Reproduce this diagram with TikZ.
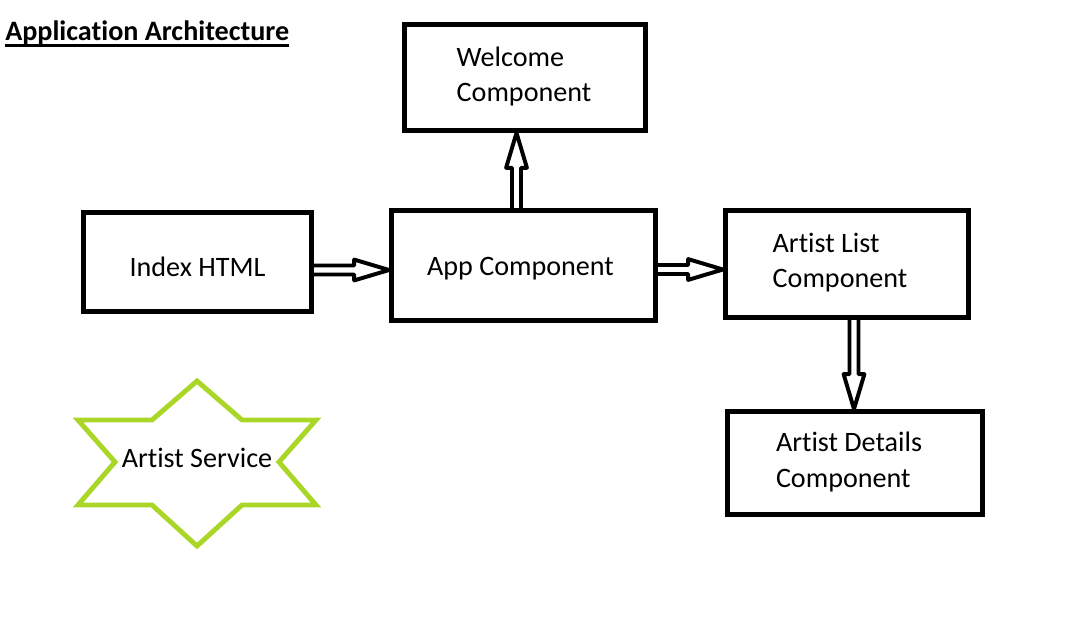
\documentclass[tikz,border=0pt]{standalone}
\usepackage{fontspec}
\setmainfont{Carlito}[RawFeature={-liga;-clig;-calt;-dlig}]
\usetikzlibrary{calc}
\definecolor{svcgreen}{RGB}{170,214,40}
\newcommand{\hollowarrow}[2]{%
  \draw[hollow] let \p1=(#1), \p2=(#2),
    \n1={atan2(\y2-\y1,\x2-\x1)}, \n2={veclen(\x2-\x1,\y2-\y1)} in
    [shift={(\p1)}, rotate=\n1]
    (0pt,-3.2pt) -- ({\n2*1pt-24.8pt},-3.2pt) -- ({\n2*1pt-24.8pt},-7.4pt)
    -- ({\n2*1pt},0pt) -- ({\n2*1pt-24.8pt},7.4pt) -- ({\n2*1pt-24.8pt},3.2pt) -- (0pt,3.2pt);
}

\begin{document}
\begin{tikzpicture} [x=0.025cm, y=-0.025cm,
  every node/.style={font=\fontsize{20}{25}\selectfont},
  comp/.style={draw, line width=3.4pt, inner sep=0pt},
  txt/.style={align=left, inner sep=0pt},
  hollow/.style={draw, line width=2.8pt, line join=round},
  starline/.style={draw=svcgreen, line width=3.5pt}]
\useasboundingbox (0,0) rectangle (1072,626);
\node[anchor=base west, inner sep=0pt, font=\bfseries\fontsize{20}{25}\selectfont] (title) at (5,40) {Application Architecture};
\draw[line width=2.6pt] ([yshift=-4pt]title.base west) -- ([yshift=-4pt]title.base east);

\node[comp, minimum width=6.03cm, minimum height=2.65cm] (wel) at (525,77.5) {};
\node[comp, minimum width=5.70cm, minimum height=2.48cm] (idx) at (197.5,262) {};
\node[comp, minimum width=6.60cm, minimum height=2.75cm] (app) at (523.5,265.5) {};
\node[comp, minimum width=6.08cm, minimum height=2.68cm] (lst) at (847,264) {};
\node[comp, minimum width=6.38cm, minimum height=2.58cm] (det) at (855,463) {};
\node[txt] (weltxt) at ($(wel)+(-1,-1)$) {Welcome\\Component};
\node[txt] (idxtxt) at ($(idx)+(0,5)$) {Index HTML};
\node[txt] (apptxt) at ($(app)+(-3,3)$) {App Component};
\node[txt] (lsttxt) at ($(lst)+(-7,-1)$) {Artist List\\Component};
\node[txt] (dettxt) at ($(det)+(-6,-1)$) {Artist Details\\Component};

\coordinate (a1) at ($(idx.east)+(0,8)$);
\coordinate (a2) at ($(app.east)+(0,4)$);
\coordinate (a3) at ($(app.north)+(-7,0)$);
\coordinate (a4) at ($(lst.south)+(7,0)$);
\hollowarrow{a1}{a1 -| app.west}
\hollowarrow{a2}{a2 -| lst.west}
\hollowarrow{a3}{a3 |- wel.south}
\hollowarrow{a4}{a4 |- det.north}

\node (svc) at (197,458) {Artist Service};
\draw[starline, shift={(197,462)}] (0,-81) -- (-45,-42) -- (-119,-42) -- (-82,0) -- (-119,43)
  -- (-45,43) -- (0,84) -- (45,43) -- (119,43) -- (82,0) -- (119,-42) -- (45,-42) -- cycle;
\end{tikzpicture}
\end{document}
